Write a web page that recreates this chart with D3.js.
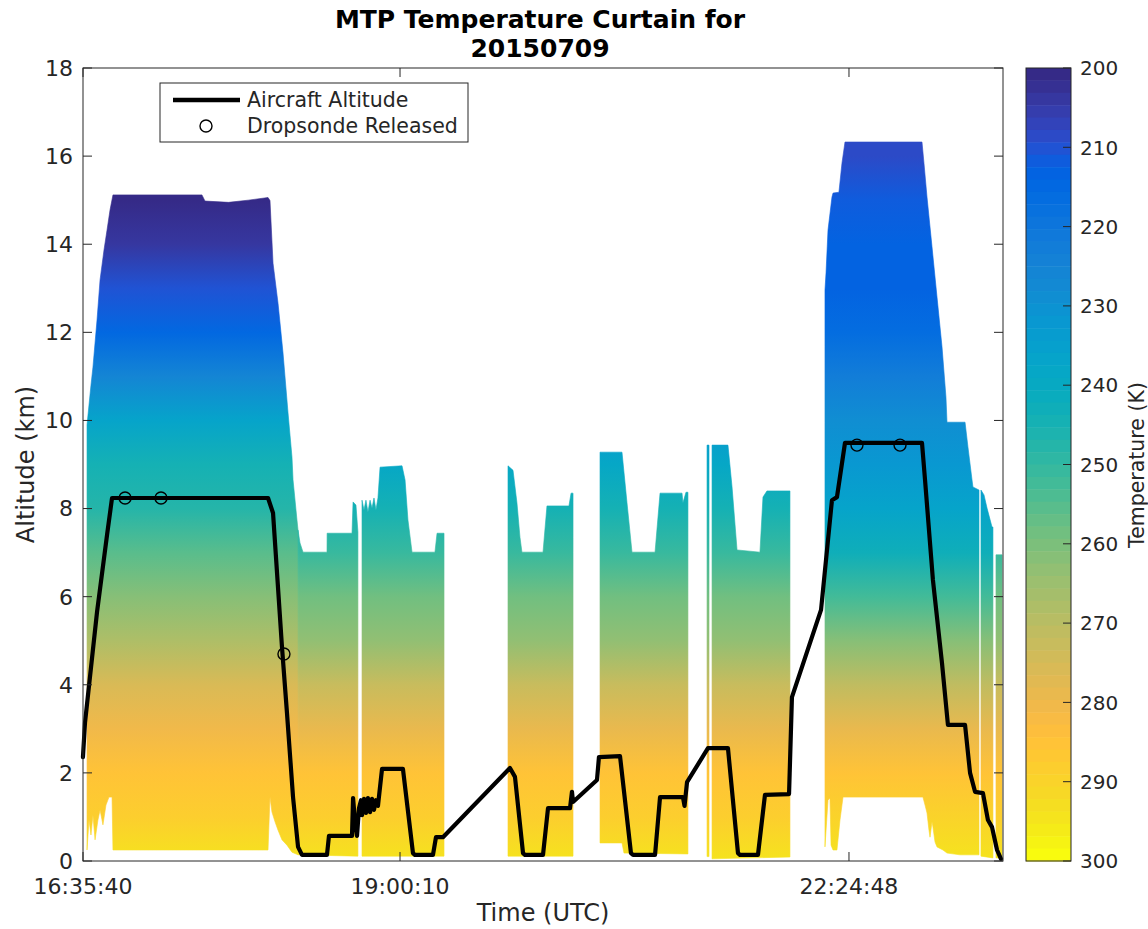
<!DOCTYPE html>
<html><head><meta charset="utf-8">
<script src="https://cdn.jsdelivr.net/npm/d3@7"></script>
<style>
body{margin:0;background:#fff}
svg{display:block}
text{font-family:"DejaVu Sans",sans-serif;fill:#262626}
</style>
</head><body>
<svg id="chart" width="1148" height="929"></svg>
<script>
// ---------------- DATA ----------------
const titleLines = ["MTP Temperature Curtain for", "20150709"];
const timeTickLabels = ["16:35:40", "19:00:10", "22:24:48"];
const timeEndLabel = "23:35:00";
const altTicks = [0, 2, 4, 6, 8, 10, 12, 14, 16, 18];
const tempTicks = [200, 210, 220, 230, 240, 250, 260, 270, 280, 290, 300];

// aircraft altitude track: [UTC decimal hours, km]
const aircraftTrack = [[16.594,2.36],[16.610,3.15],[16.701,5.65],[16.777,7.40],[16.815,8.24],[18.000,8.24],[18.038,7.90],[18.106,4.86],[18.144,3.36],[18.190,1.45],[18.228,0.32],[18.258,0.14],[18.448,0.14],[18.463,0.57],[18.638,0.57],[18.646,1.43],[18.661,0.89],[18.676,0.57],[18.691,1.20],[18.706,1.38],[18.714,1.04],[18.729,1.41],[18.744,1.09],[18.759,1.43],[18.775,1.11],[18.790,1.41],[18.805,1.16],[18.820,1.38],[18.835,1.25],[18.866,2.09],[19.025,2.09],[19.101,0.18],[19.116,0.14],[19.253,0.14],[19.276,0.54],[19.329,0.54],[19.838,2.11],[19.876,1.91],[19.937,0.18],[19.952,0.14],[20.089,0.14],[20.127,1.20],[20.294,1.20],[20.309,1.57],[20.317,1.34],[20.499,1.84],[20.514,2.36],[20.674,2.38],[20.757,0.18],[20.773,0.14],[20.940,0.14],[20.978,1.45],[21.152,1.45],[21.164,1.25],[21.183,1.79],[21.342,2.56],[21.494,2.56],[21.570,0.18],[21.585,0.14],[21.722,0.14],[21.775,1.50],[21.958,1.52],[21.980,3.72],[22.201,5.70],[22.284,8.19],[22.322,8.26],[22.383,9.49],[22.968,9.49],[22.991,8.65],[23.051,6.38],[23.120,4.49],[23.165,3.09],[23.295,3.09],[23.333,2.00],[23.371,1.57],[23.431,1.54],[23.469,0.93],[23.500,0.77],[23.538,0.25],[23.568,0.05]];

// dropsonde releases
const dropTime = [16.914, 17.187, 18.121, 22.474, 22.801];
const dropAlt = [8.24, 8.24, 4.70, 9.44, 9.44];

// temperature profiles (K) at profile altitudes (km)
const profileAlt = [0,1,2,3,4,5,6,7,8,9,10,11,12,13,14,15,16,17];
const profileLeft = [294,289,285,281,275,268,261,255,248,244,237,226,215,210,204,200,200,200];
const profileMid = [294,289,285,279,272,264,258,251,245,238,232,225,218,212,208,205,203,201];
const profileRight = [294,290,285,279,271,261,252,243,236,232,229,222,216,214,213,211,209,208];

// curtain coverage envelopes: [UTC decimal hours, km]
const segA1Top = [[16.625,9.90],[16.640,10.35],[16.655,10.80],[16.670,11.21],[16.701,12.28],[16.724,13.19],[16.754,13.87],[16.777,14.32],[16.800,14.78],[16.822,15.12],[17.498,15.12],[17.521,14.98],[17.700,14.95],[17.850,15.00],[18.000,15.06],[18.015,14.99],[18.038,13.57],[18.076,12.66],[18.114,11.53],[18.152,10.17],[18.182,9.17],[18.190,8.65],[18.220,7.74],[18.228,7.51]];
const segA1Bot = [[16.625,0.25],[16.640,0.93],[16.655,0.59],[16.670,1.04],[16.686,0.48],[16.708,0.93],[16.724,1.16],[16.746,0.82],[16.769,1.27],[16.792,1.45],[16.815,1.45],[16.822,0.25],[18.000,0.25],[18.015,1.45],[18.030,1.11],[18.053,0.89],[18.076,0.70],[18.106,0.48],[18.144,0.36],[18.182,0.20],[18.228,0.14]];
const segA2Top = [[18.228,7.51],[18.243,7.22],[18.266,7.01],[18.448,7.01],[18.449,7.44],[18.638,7.44],[18.646,8.15],[18.668,8.08],[18.683,7.47]];
const segA2Bot = [[18.228,0.14],[18.683,0.11]];
const segBTop = [[18.714,8.19],[18.729,7.97],[18.744,8.19],[18.759,7.92],[18.775,8.19],[18.790,8.01],[18.805,8.24],[18.820,7.97],[18.835,8.24],[18.851,8.94],[19.018,8.97],[19.041,8.65],[19.063,7.74],[19.094,7.01],[19.268,7.01],[19.284,7.44],[19.337,7.44]];
const segBBot = [[18.714,0.11],[19.337,0.11]];
const segCTop = [[19.823,8.97],[19.861,8.87],[19.891,8.13],[19.914,7.35],[19.929,7.01],[20.089,7.01],[20.119,8.06],[20.286,8.06],[20.302,8.35],[20.317,8.35]];
const segCBot = [[19.823,0.11],[20.317,0.11]];
const segDTop = [[20.522,9.28],[20.689,9.28],[20.727,8.13],[20.765,7.01],[20.940,7.01],[20.978,8.35],[21.145,8.35],[21.152,8.13],[21.175,8.37],[21.190,8.37]];
const segDBot = [[20.522,0.41],[20.689,0.41],[20.704,0.18],[21.190,0.16]];
const segETop = [[21.335,9.44],[21.350,9.44]];
const segEBot = [[21.335,0.10],[21.350,0.10]];
const segFTop = [[21.373,9.44],[21.494,9.44],[21.525,8.49],[21.563,7.06],[21.737,7.01],[21.760,8.26],[21.790,8.40],[21.965,8.40]];
const segFBot = [[21.373,0.05],[21.965,0.09]];
const segGTop = [[22.231,12.96],[22.239,13.35],[22.254,14.32],[22.284,15.07],[22.292,15.16],[22.337,15.18],[22.360,15.84],[22.383,16.32],[22.968,16.32],[22.983,15.84],[23.006,15.07],[23.044,13.94],[23.082,12.80],[23.120,11.67],[23.150,10.53],[23.158,9.96],[23.295,9.96],[23.317,9.40],[23.348,8.65],[23.355,8.49],[23.401,8.42]];
const segGBot = [[22.231,0.32],[22.254,1.38],[22.269,1.43],[22.277,0.36],[22.292,0.25],[22.322,0.25],[22.345,0.93],[22.368,1.45],[22.975,1.45],[22.991,1.27],[23.006,1.09],[23.021,0.70],[23.029,0.54],[23.044,0.89],[23.051,0.77],[23.067,0.43],[23.082,0.32],[23.127,0.25],[23.158,0.18],[23.257,0.14],[23.401,0.14]];
const segHTop = [[23.416,8.42],[23.439,8.31],[23.462,8.01],[23.500,7.58],[23.507,7.58]];
const segHBot = [[23.416,0.11],[23.507,0.07]];
const segITop = [[23.530,6.95],[23.576,6.95]];
const segIBot = [[23.530,0.07],[23.576,0.07]];

// parula colormap (64 levels)
const parula = [[0.2081,0.1663,0.5292],[0.2116,0.1898,0.5777],[0.2123,0.2138,0.6270],[0.2081,0.2386,0.6771],[0.1959,0.2645,0.7279],[0.1707,0.2919,0.7792],[0.1253,0.3242,0.8303],[0.0591,0.3598,0.8683],[0.0117,0.3875,0.8820],[0.0060,0.4086,0.8828],[0.0165,0.4266,0.8786],[0.0329,0.4430,0.8720],[0.0498,0.4586,0.8641],[0.0629,0.4737,0.8554],[0.0723,0.4887,0.8467],[0.0779,0.5040,0.8384],[0.0793,0.5200,0.8312],[0.0749,0.5375,0.8263],[0.0641,0.5570,0.8240],[0.0488,0.5772,0.8228],[0.0343,0.5966,0.8199],[0.0265,0.6137,0.8135],[0.0239,0.6287,0.8038],[0.0231,0.6418,0.7913],[0.0228,0.6535,0.7768],[0.0267,0.6642,0.7607],[0.0384,0.6743,0.7436],[0.0590,0.6838,0.7254],[0.0843,0.6928,0.7062],[0.1133,0.7015,0.6859],[0.1453,0.7098,0.6646],[0.1801,0.7177,0.6424],[0.2178,0.7250,0.6193],[0.2586,0.7317,0.5954],[0.3022,0.7376,0.5712],[0.3482,0.7424,0.5473],[0.3953,0.7459,0.5244],[0.4420,0.7481,0.5033],[0.4871,0.7491,0.4840],[0.5300,0.7491,0.4661],[0.5709,0.7485,0.4494],[0.6099,0.7473,0.4337],[0.6473,0.7456,0.4188],[0.6834,0.7435,0.4044],[0.7184,0.7411,0.3905],[0.7525,0.7384,0.3768],[0.7858,0.7356,0.3633],[0.8185,0.7327,0.3498],[0.8507,0.7299,0.3360],[0.8824,0.7274,0.3217],[0.9139,0.7258,0.3063],[0.9450,0.7261,0.2886],[0.9739,0.7314,0.2666],[0.9938,0.7455,0.2403],[0.9990,0.7653,0.2164],[0.9955,0.7861,0.1967],[0.9880,0.8066,0.1794],[0.9789,0.8271,0.1633],[0.9697,0.8481,0.1475],[0.9626,0.8705,0.1309],[0.9589,0.8949,0.1132],[0.9598,0.9218,0.0948],[0.9661,0.9514,0.0755],[0.9763,0.9831,0.0538]];

// ---------------- CHART ----------------
const segments = [
  {top: segA1Top, bot: segA1Bot, profile: profileLeft},
  {top: segA2Top, bot: segA2Bot, profile: profileMid},
  {top: segBTop, bot: segBBot, profile: profileMid},
  {top: segCTop, bot: segCBot, profile: profileMid},
  {top: segDTop, bot: segDBot, profile: profileMid},
  {top: segETop, bot: segEBot, profile: profileMid},
  {top: segFTop, bot: segFBot, profile: profileMid},
  {top: segGTop, bot: segGBot, profile: profileRight},
  {top: segHTop, bot: segHBot, profile: profileRight},
  {top: segITop, bot: segIBot, profile: profileMid}
];

const toHours = s => { const p = s.split(":").map(Number); return p[0] + p[1]/60 + p[2]/3600; };
const M = {left: 83, right: 1003, top: 68, bottom: 861};
const axisColor = "#262626";

const x = d3.scaleLinear().domain([toHours(timeTickLabels[0]), toHours(timeEndLabel)]).range([M.left, M.right]);
const y = d3.scaleLinear().domain([0, 18]).range([M.bottom, M.top]);
const parulaHex = parula.map(c => d3.rgb(c[0]*255, c[1]*255, c[2]*255).formatHex());
const color = d3.scaleQuantize().domain([200, 300]).range(parulaHex);

const svg = d3.select("#chart");
const defs = svg.append("defs");
defs.append("clipPath").attr("id", "plotclip").append("rect")
  .attr("x", M.left).attr("y", M.top).attr("width", M.right - M.left).attr("height", M.bottom - M.top);

// curtain
const line = d3.line().x(d => x(d[0])).y(d => y(d[1]));
const altMin = profileAlt[0], altMax = profileAlt[profileAlt.length - 1];
const curtain = svg.append("g").attr("clip-path", "url(#plotclip)");
segments.forEach((s, i) => {
  const g = defs.append("linearGradient").attr("id", "grad" + i)
    .attr("gradientUnits", "userSpaceOnUse")
    .attr("x1", 0).attr("x2", 0).attr("y1", y(altMin)).attr("y2", y(altMax));
  s.profile.forEach((T, j) => {
    g.append("stop")
      .attr("offset", (y(profileAlt[j]) - y(altMin)) / (y(altMax) - y(altMin)))
      .attr("stop-color", color(T));
  });
  const poly = s.top.concat(s.bot.slice().reverse());
  curtain.append("path").attr("d", line(poly) + "Z")
    .attr("fill", "url(#grad" + i + ")")
    .attr("stroke", "url(#grad" + i + ")").attr("stroke-width", 0.6);
});

// aircraft altitude
svg.append("path").attr("d", line(aircraftTrack))
  .attr("fill", "none").attr("stroke", "#000").attr("stroke-width", 4.2)
  .attr("stroke-linejoin", "round").attr("stroke-linecap", "round");

// dropsondes
svg.selectAll("circle.drop").data(dropTime).enter().append("circle")
  .attr("class", "drop")
  .attr("cx", d => x(d)).attr("cy", (d, i) => y(dropAlt[i])).attr("r", 6)
  .attr("fill", "none").attr("stroke", "#000").attr("stroke-width", 1.4);

// axes box
svg.append("rect").attr("x", M.left).attr("y", M.top)
  .attr("width", M.right - M.left).attr("height", M.bottom - M.top)
  .attr("fill", "none").attr("stroke", axisColor).attr("stroke-width", 1);

const tickLen = 9;
const xTickVals = timeTickLabels.map(toHours);
const gAxes = svg.append("g").attr("stroke", axisColor).attr("stroke-width", 1);
xTickVals.forEach(v => {
  gAxes.append("line").attr("x1", x(v)).attr("x2", x(v)).attr("y1", M.bottom).attr("y2", M.bottom - tickLen);
  gAxes.append("line").attr("x1", x(v)).attr("x2", x(v)).attr("y1", M.top).attr("y2", M.top + tickLen);
});
altTicks.forEach(v => {
  gAxes.append("line").attr("x1", M.left).attr("x2", M.left + tickLen).attr("y1", y(v)).attr("y2", y(v));
  gAxes.append("line").attr("x1", M.right).attr("x2", M.right - tickLen).attr("y1", y(v)).attr("y2", y(v));
});

svg.selectAll("text.xt").data(timeTickLabels).enter().append("text")
  .attr("class", "xt").attr("x", d => x(toHours(d))).attr("y", 894)
  .attr("text-anchor", "middle").style("font-size", "22px").text(d => d);
svg.selectAll("text.yt").data(altTicks).enter().append("text")
  .attr("class", "yt").attr("x", 73).attr("y", d => y(d)).attr("dy", "0.36em")
  .attr("text-anchor", "end").style("font-size", "22px").text(d => d);

svg.append("text").attr("x", (M.left + M.right) / 2).attr("y", 921)
  .attr("text-anchor", "middle").style("font-size", "24px").text("Time (UTC)");
svg.append("text").attr("transform", `translate(34,${(M.top + M.bottom) / 2}) rotate(-90)`)
  .attr("text-anchor", "middle").style("font-size", "24px").text("Altitude (km)");

// title
titleLines.forEach((t, i) => {
  svg.append("text").attr("x", (M.left + M.right) / 2 - 3).attr("y", 28 + i * 29)
    .attr("text-anchor", "middle").style("font-size", "25px").style("font-weight", "bold")
    .style("fill", "#000").text(t);
});

// legend
const lg = svg.append("g");
lg.append("rect").attr("x", 160).attr("y", 83).attr("width", 308).attr("height", 59)
  .attr("fill", "#fff").attr("stroke", axisColor).attr("stroke-width", 1);
lg.append("line").attr("x1", 173).attr("x2", 240).attr("y1", 100).attr("y2", 100)
  .attr("stroke", "#000").attr("stroke-width", 4.5);
lg.append("circle").attr("cx", 206).attr("cy", 126).attr("r", 6)
  .attr("fill", "none").attr("stroke", "#000").attr("stroke-width", 1.4);
lg.append("text").attr("x", 247).attr("y", 107).style("font-size", "20.5px").text("Aircraft Altitude");
lg.append("text").attr("x", 247).attr("y", 133).style("font-size", "20.5px").text("Dropsonde Released");

// colorbar
const CB = {x: 1026, w: 45, top: 68, bottom: 861};
const cy = d3.scaleLinear().domain([200, 300]).range([CB.top, CB.bottom]);
const cbg = svg.append("g");
parulaHex.forEach((c, i) => {
  const t0 = 200 + i * 100 / parulaHex.length, t1 = 200 + (i + 1) * 100 / parulaHex.length;
  cbg.append("rect").attr("x", CB.x).attr("y", cy(t0)).attr("width", CB.w)
    .attr("height", cy(t1) - cy(t0) + 0.5).attr("fill", c);
});
cbg.append("rect").attr("x", CB.x).attr("y", CB.top).attr("width", CB.w).attr("height", CB.bottom - CB.top)
  .attr("fill", "none").attr("stroke", axisColor).attr("stroke-width", 1);
tempTicks.forEach(v => {
  cbg.append("line").attr("x1", CB.x + CB.w).attr("x2", CB.x + CB.w - 8)
    .attr("y1", cy(v)).attr("y2", cy(v)).attr("stroke", axisColor).attr("stroke-width", 1);
});
cbg.selectAll("text.ct").data(tempTicks).enter().append("text")
  .attr("class", "ct").attr("x", 1080).attr("y", d => cy(d)).attr("dy", "0.36em")
  .style("font-size", "20px").text(d => d);
svg.append("text").attr("transform", `translate(1144,465) rotate(-90)`)
  .attr("text-anchor", "middle").style("font-size", "20.5px").text("Temperature (K)");
</script>
</body></html>
